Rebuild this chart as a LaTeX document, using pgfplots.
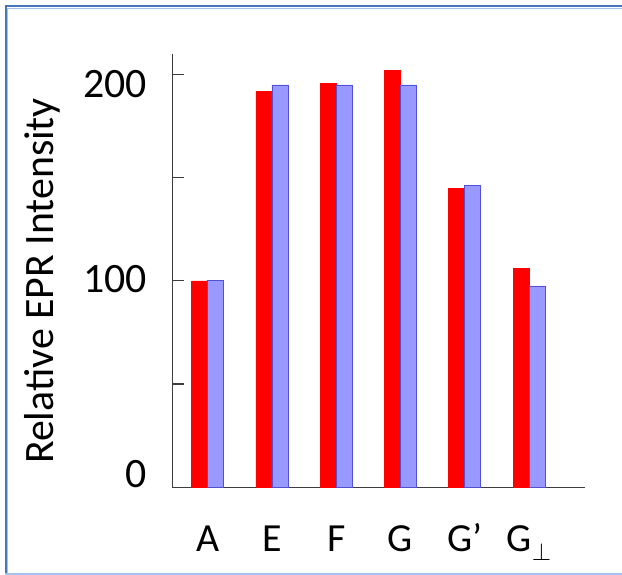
\documentclass[border=0pt]{standalone}
\usepackage{pgfplots}
\pgfplotsset{compat=1.18}
\usepackage{fontspec}
\setmainfont{Carlito}
\definecolor{frameblue}{RGB}{70,120,185}
\definecolor{framelight}{RGB}{160,195,235}
\definecolor{barblue}{RGB}{153,153,255}
\definecolor{barblueedge}{RGB}{80,80,220}
\definecolor{axisgray}{RGB}{60,60,60}
\begin{document}
\begin{tikzpicture}[x=1bp,y=1bp]
\fill[white] (0,0) rectangle (622,575);
\begin{axis}[
  at={(172.3bp,87.7bp)}, anchor=south west,
  scale only axis, width=412.7bp, height=433.3bp,
  xmin=-0.55, xmax=5.87, ymin=0, ymax=209.8,
  axis x line*=bottom, axis y line*=left,
  axis line style={draw=axisgray, line width=1.3pt, -},
  tick align=inside,
  major tick length=12bp,
  tick style={draw=axisgray, line width=1.3pt},
  xtick={0,1,2,3,4,5},
  xticklabels={A,E,F,G,G’,G$_{\perp}$},
  x tick style={draw=none},
  xticklabel style={font=\fontsize{40}{44}\selectfont, anchor=base, inner sep=0pt, yshift=-64.4bp},
  ytick={0,50,100,150,200},
  yticklabels={,,,,},
  extra y ticks={0,94.1,188.9},
  extra y tick labels={0,100,200},
  extra y tick style={major tick length=0pt, tick style={draw=none},
    yticklabel style={font=\fontsize{42}{46}\selectfont, anchor=base east, inner sep=0pt, xshift=-25bp}},
  clip=false,
]
\addplot[ybar, bar width=0.25, bar shift=-0.125, fill=red, draw=red, line width=0.5pt]
  coordinates {(0,100) (1,191.6) (2,195.6) (3,201.7) (4,144.8) (5,106.1)};
\addplot[ybar, bar width=0.25, bar shift=0.125, fill=barblue, draw=barblueedge, line width=0.8pt]
  coordinates {(0,100) (1,194.8) (2,194.8) (3,194.8) (4,146.1) (5,97.5)};
\end{axis}
\node[rotate=90, anchor=base, inner sep=0pt, font=\fontsize{42}{46}\selectfont] at (53bp,294bp) {Relative EPR Intensity};
\draw[frameblue, line width=2bp] (5.5,-5) -- (5.5,568.5) -- (640,568.5);
\draw[framelight, line width=1.2bp] (7.5,-5) -- (7.5,566.5) -- (640,566.5);
\draw[framelight, line width=1.5bp] (5,1) -- (640,1);
\pgfresetboundingbox
\useasboundingbox (0,0) rectangle (622,575);
\end{tikzpicture}
\end{document}
